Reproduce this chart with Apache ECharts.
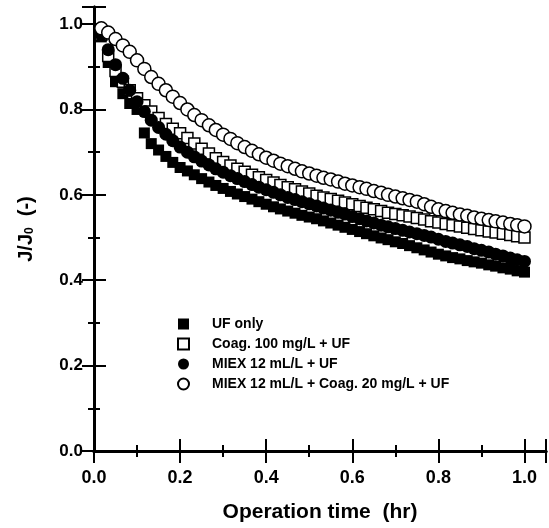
<!DOCTYPE html>
<html>
<head>
<meta charset="utf-8">
<script src="https://cdn.jsdelivr.net/npm/echarts@6/dist/echarts.min.js"></script>
<style>
  html, body { margin: 0; padding: 0; background: #fff; }
  #chart { width: 549px; height: 528px; }
</style>
</head>
<body>
<div id="chart"></div>
<script>
// operation time (hr), one reading per minute
const timeHr = [0.017,0.033,0.050,0.067,0.083,0.100,0.117,0.133,0.150,0.167,
  0.183,0.200,0.217,0.233,0.250,0.267,0.283,0.300,0.317,0.333,
  0.350,0.367,0.383,0.400,0.417,0.433,0.450,0.467,0.483,0.500,
  0.517,0.533,0.550,0.567,0.583,0.600,0.617,0.633,0.650,0.667,
  0.683,0.700,0.717,0.733,0.750,0.767,0.783,0.800,0.817,0.833,
  0.850,0.867,0.883,0.900,0.917,0.933,0.950,0.967,0.983,1.000];

// J/J0
const ufOnly = [0.97,0.91,0.865,0.837,0.814,0.80,0.745,0.72,0.705,0.69,
  0.676,0.664,0.656,0.647,0.638,0.630,0.622,0.615,0.608,0.602,
  0.596,0.590,0.584,0.578,0.572,0.567,0.562,0.557,0.552,0.548,
  0.544,0.539,0.534,0.529,0.524,0.519,0.514,0.509,0.504,0.499,
  0.495,0.490,0.486,0.481,0.476,0.471,0.466,0.461,0.457,0.453,
  0.450,0.446,0.443,0.440,0.436,0.433,0.429,0.426,0.422,0.419];

const coag100 = [0.975,0.925,0.89,0.865,0.845,0.826,0.81,0.795,0.78,0.766,
  0.755,0.744,0.733,0.72,0.708,0.697,0.686,0.677,0.669,0.661,
  0.654,0.647,0.641,0.635,0.629,0.623,0.618,0.613,0.608,0.603,
  0.598,0.594,0.590,0.586,0.582,0.578,0.574,0.570,0.566,0.562,
  0.558,0.555,0.552,0.549,0.546,0.542,0.538,0.535,0.532,0.529,
  0.526,0.523,0.520,0.517,0.514,0.512,0.509,0.506,0.503,0.500];

const miex12 = [0.975,0.94,0.905,0.873,0.845,0.818,0.795,0.775,0.758,0.742,
  0.727,0.712,0.70,0.689,0.679,0.670,0.661,0.653,0.645,0.638,
  0.631,0.624,0.618,0.612,0.606,0.600,0.594,0.589,0.584,0.579,
  0.574,0.569,0.564,0.559,0.555,0.549,0.544,0.539,0.534,0.529,
  0.525,0.521,0.517,0.513,0.509,0.505,0.501,0.496,0.491,0.487,
  0.483,0.479,0.474,0.470,0.466,0.461,0.457,0.452,0.448,0.444];

const miexCoag = [0.99,0.98,0.965,0.95,0.935,0.915,0.895,0.876,0.86,0.845,
  0.83,0.815,0.80,0.787,0.775,0.763,0.752,0.741,0.731,0.721,
  0.712,0.703,0.695,0.687,0.680,0.673,0.667,0.661,0.655,0.650,
  0.645,0.640,0.636,0.631,0.626,0.622,0.618,0.614,0.609,0.605,
  0.600,0.596,0.592,0.588,0.584,0.578,0.572,0.566,0.562,0.558,
  0.554,0.551,0.547,0.544,0.541,0.538,0.535,0.532,0.529,0.526];

const seriesNames = ['UF only', 'Coag. 100 mg/L + UF', 'MIEX 12 mL/L + UF', 'MIEX 12 mL/L + Coag. 20 mg/L + UF'];

const FONT = '"Liberation Sans", Arial, sans-serif';

function pairs(ys) {
  return timeHr.map((t, i) => [t, ys[i]]);
}

const chart = echarts.init(document.getElementById('chart'));

const frameAxis = {
  type: 'value',
  axisLine: { show: true, lineStyle: { color: '#000', width: 3 } },
  axisTick: { show: true, inside: true, length: 12, lineStyle: { color: '#000', width: 2 } },
  minorTick: { show: true, splitNumber: 2, length: 6, lineStyle: { color: '#000', width: 2 } },
  splitLine: { show: false },
  axisLabel: { show: false }
};

const option = {
  animation: false,
  backgroundColor: '#fff',
  textStyle: { fontFamily: FONT },
  grid: { left: 94, right: 3, top: 7, bottom: 76 },
  legend: {
    orient: 'vertical',
    left: 172,
    top: 311,
    itemWidth: 11,
    itemHeight: 11,
    itemGap: 4,
    data: seriesNames,
    textStyle: { fontFamily: FONT, fontWeight: 'bold', fontSize: 14, color: '#000', lineHeight: 16, padding: [0, 0, 0, 18] }
  },
  xAxis: [
    Object.assign({}, frameAxis, {
      position: 'bottom', min: 0, max: 1.05, interval: 0.2,
      axisLabel: {
        show: true, showMaxLabel: false, margin: 18,
        fontFamily: FONT, fontWeight: 'bold', fontSize: 18, color: '#000',
        formatter: v => v.toFixed(1)
      },
      name: 'Operation time  (hr)',
      nameLocation: 'middle',
      nameGap: 51,
      nameTextStyle: { fontFamily: FONT, fontWeight: 'bold', fontSize: 21, color: '#000' }
    }),
    Object.assign({}, frameAxis, { position: 'top', min: 0, max: 1.05, interval: 0.2 })
  ],
  yAxis: [
    Object.assign({}, frameAxis, {
      position: 'left', min: 0, max: 1.04, interval: 0.2,
      axisLabel: {
        show: true, showMaxLabel: false, margin: 11,
        fontFamily: FONT, fontWeight: 'bold', fontSize: 17, color: '#000',
        formatter: v => v.toFixed(1)
      },
      name: '{a|J/J}{s|0}{a|  (-)}',
      nameLocation: 'middle',
      nameGap: 58,
      nameRotate: 90,
      nameTextStyle: {
        rich: {
          a: { fontFamily: FONT, fontWeight: 'bold', fontSize: 20, color: '#000' },
          s: { fontFamily: FONT, fontWeight: 'bold', fontSize: 12, color: '#000', verticalAlign: 'bottom', padding: [8, 0, 0, 0] }
        }
      }
    }),
    Object.assign({}, frameAxis, { position: 'right', min: 0, max: 1.04, interval: 0.2 })
  ],
  series: [
    {
      name: seriesNames[0], type: 'scatter', symbol: 'rect', symbolSize: 11,
      itemStyle: { color: '#000', opacity: 1 },
      data: pairs(ufOnly)
    },
    {
      name: seriesNames[1], type: 'scatter', symbol: 'rect', symbolSize: 11,
      itemStyle: { color: '#fff', borderColor: '#000', borderWidth: 1.5, opacity: 1 },
      data: pairs(coag100)
    },
    {
      name: seriesNames[2], type: 'scatter', symbol: 'circle', symbolSize: 13,
      itemStyle: { color: '#000', opacity: 1 },
      data: pairs(miex12)
    },
    {
      name: seriesNames[3], type: 'scatter', symbol: 'circle', symbolSize: 13,
      itemStyle: { color: '#fff', borderColor: '#000', borderWidth: 1.5, opacity: 1 },
      data: pairs(miexCoag)
    }
  ]
};

chart.setOption(option);
window.addEventListener('resize', () => chart.resize());
</script>
</body>
</html>
